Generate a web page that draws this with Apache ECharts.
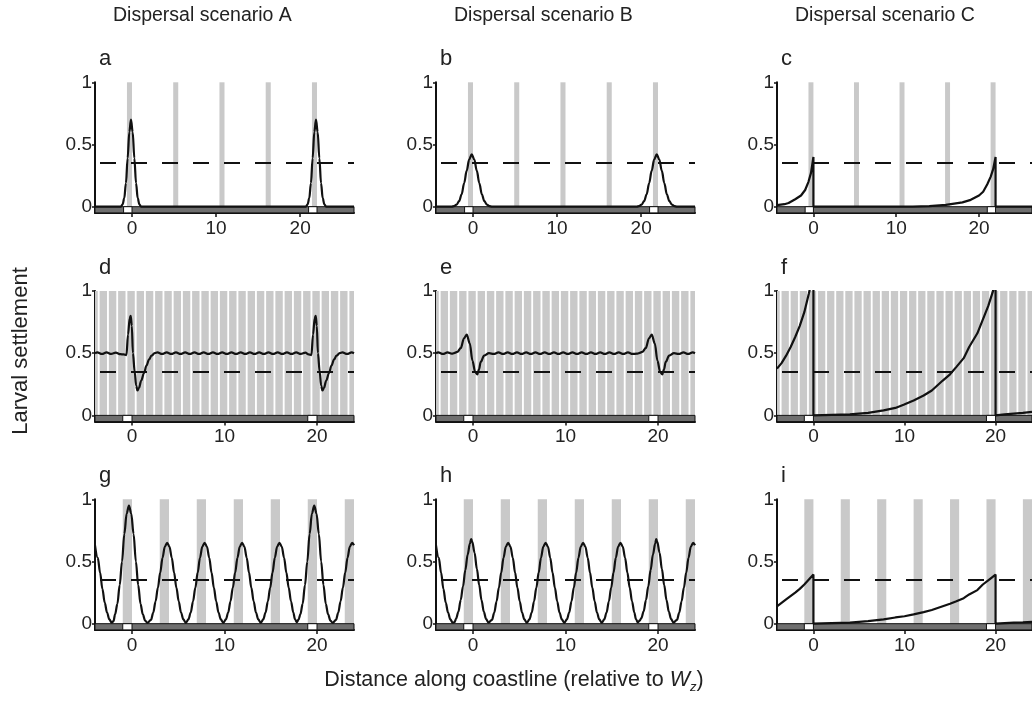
<!DOCTYPE html>
<html><head><meta charset="utf-8">
<script src="https://cdn.jsdelivr.net/npm/echarts@6/dist/echarts.min.js"></script>
<style>html,body{margin:0;padding:0;background:#fff}#c{width:1032px;height:702px}</style>
</head><body><div id="c"></div>
<script>
// ---------------- DATA ----------------
const scenarioTitles = ['Dispersal scenario A', 'Dispersal scenario B', 'Dispersal scenario C'];
const panelLetters = ['a', 'b', 'c', 'd', 'e', 'f', 'g', 'h', 'i'];
const yAxisTitle = 'Larval settlement';
const xAxisTitleParts = ['Distance along coastline (relative to ', 'W', 'z', ')'];
const xTicks = [0, 10, 20];
const yTicks = [0, 0.5, 1];
const threshold = 0.35;
const xRangeRow1 = [-4.4, 26.4];
const xRangeRow2 = [-4, 24];
const xRangeRow3 = [-4, 24];
const yRange = [-0.05, 1];

const reservesRow1 = [[-0.6, 0], [4.9, 5.5], [10.4, 11], [15.9, 16.5], [21.4, 22]];
const reservesRow2 = [[-4, -3.7], [-3.5, -2.7], [-2.5, -1.7], [-1.5, -0.7], [-0.5, 0.3], [0.5, 1.3],
  [1.5, 2.3], [2.5, 3.3], [3.5, 4.3], [4.5, 5.3], [5.5, 6.3], [6.5, 7.3], [7.5, 8.3], [8.5, 9.3],
  [9.5, 10.3], [10.5, 11.3], [11.5, 12.3], [12.5, 13.3], [13.5, 14.3], [14.5, 15.3], [15.5, 16.3],
  [16.5, 17.3], [17.5, 18.3], [18.5, 19.3], [19.5, 20.3], [20.5, 21.3], [21.5, 22.3], [22.5, 23.3], [23.5, 24]];
const reservesRow3 = [[-1, 0], [3, 4], [7, 8], [11, 12], [15, 16], [19, 20], [23, 24]];
const focalRow1 = [[-1, 0], [21, 22]];
const focalRow2 = [[-1, 0], [19, 20]];
const focalRow3 = [[-1, 0], [19, 20]];

const curveA = [[-4.4,0],[-1.32,0],[-1.12,0.018],[-0.92,0.068],[-0.72,0.19],[-0.52,0.39],[-0.32,0.6],[-0.12,0.7],
  [0.08,0.6],[0.28,0.39],[0.48,0.19],[0.68,0.068],[0.88,0.018],[1.08,0],[20.68,0],[20.88,0.018],[21.08,0.068],
  [21.28,0.19],[21.48,0.39],[21.68,0.6],[21.88,0.7],[22.08,0.6],[22.28,0.39],[22.48,0.19],[22.68,0.068],
  [22.88,0.018],[23.08,0],[26.4,0]];
const curveB = [[-4.4,0],[-2.55,0],[-2.25,0.005],[-1.95,0.016],[-1.65,0.045],[-1.35,0.1],[-1.05,0.19],[-0.75,0.29],
  [-0.45,0.38],[-0.15,0.42],[0.15,0.38],[0.45,0.29],[0.75,0.19],[1.05,0.1],[1.35,0.045],[1.65,0.016],[1.95,0.005],
  [2.25,0],[19.45,0],[19.75,0.005],[20.05,0.016],[20.35,0.045],[20.65,0.1],[20.95,0.19],[21.25,0.29],[21.55,0.38],
  [21.85,0.42],[22.15,0.38],[22.45,0.29],[22.75,0.19],[23.05,0.1],[23.35,0.045],[23.65,0.016],[23.95,0.005],
  [24.25,0],[26.4,0]];
const curveC = [[-4.4,0.012],[-3.5,0.02],[-3,0.03],[-2.2,0.06],[-1.5,0.09],[-1,0.134],[-0.6,0.2],[-0.3,0.27],[0,0.4],
  [0,0],[12,0],[14,0.005],[16,0.015],[18,0.035],[19,0.055],[20,0.09],[20.5,0.12],[21,0.18],[21.4,0.24],[21.7,0.3],
  [22,0.4],[22,0],[26.4,0]];
const curveD = [[-4,0.5],[-3.75,0.506],[-3.25,0.494],[-2.75,0.506],[-2.25,0.494],[-1.75,0.504],[-1.25,0.492],
  [-0.9,0.49],[-0.6,0.485],[-0.43,0.65],[-0.25,0.78],[-0.14,0.8],[-0.02,0.72],[0.1,0.5],[0.29,0.35],[0.45,0.24],
  [0.58,0.2],[0.75,0.22],[1,0.28],[1.3,0.34],[1.56,0.4],[1.85,0.45],[2.1,0.48],[2.45,0.5],[2.75,0.506],[3.25,0.494],
  [3.75,0.506],[4.25,0.494],[4.75,0.506],[5.25,0.494],[5.75,0.506],[6.25,0.494],[6.75,0.506],[7.25,0.494],
  [7.75,0.506],[8.25,0.494],[8.75,0.506],[9.25,0.494],[9.75,0.506],[10.25,0.494],[10.75,0.506],[11.25,0.494],
  [11.75,0.506],[12.25,0.494],[12.75,0.506],[13.25,0.494],[13.75,0.506],[14.25,0.494],[14.75,0.506],[15.25,0.494],
  [15.75,0.506],[16.25,0.494],[16.75,0.506],[17.25,0.494],[17.75,0.506],[18.25,0.494],[18.75,0.504],[19.1,0.49],
  [19.4,0.485],[19.57,0.65],[19.75,0.78],[19.86,0.8],[19.98,0.72],[20.1,0.5],[20.29,0.35],[20.45,0.24],[20.58,0.2],
  [20.75,0.22],[21,0.28],[21.3,0.34],[21.56,0.4],[21.85,0.45],[22.1,0.48],[22.45,0.5],[22.75,0.506],[23.25,0.494],
  [23.75,0.506],[24,0.5]];
const curveE = [[-4,0.5],[-3.75,0.506],[-3.25,0.494],[-2.75,0.506],[-2.3,0.496],[-2.05,0.5],[-1.7,0.51],[-1.33,0.54],
  [-0.97,0.62],[-0.68,0.65],[-0.35,0.58],[-0.06,0.44],[0.23,0.35],[0.47,0.33],[0.65,0.37],[0.83,0.43],[1.2,0.48],
  [1.73,0.5],[2.25,0.494],[2.75,0.506],[3.25,0.494],[3.75,0.506],[4.25,0.494],[4.75,0.506],[5.25,0.494],[5.75,0.506],
  [6.25,0.494],[6.75,0.506],[7.25,0.494],[7.75,0.506],[8.25,0.494],[8.75,0.506],[9.25,0.494],[9.75,0.506],
  [10.25,0.494],[10.75,0.506],[11.25,0.494],[11.75,0.506],[12.25,0.494],[12.75,0.506],[13.25,0.494],[13.75,0.506],
  [14.25,0.494],[14.75,0.506],[15.25,0.494],[15.75,0.506],[16.25,0.494],[16.75,0.506],[17.25,0.494],[17.7,0.496],
  [17.95,0.5],[18.3,0.51],[18.67,0.54],[19.03,0.62],[19.32,0.65],[19.65,0.58],[19.94,0.44],[20.23,0.35],[20.47,0.33],
  [20.65,0.37],[20.83,0.43],[21.2,0.48],[21.73,0.5],[22.25,0.494],[22.75,0.506],[23.25,0.494],[23.75,0.506],[24,0.5]];
const curveF = [[-4,0.376],[-3.5,0.42],[-3,0.48],[-2.5,0.55],[-2,0.63],[-1.5,0.72],[-1,0.83],[-0.5,0.98],[-0.2,1.08],
  [0,1.15],[0,0],[2,0.004],[4,0.008],[6,0.02],[7.7,0.04],[9,0.06],[9.9,0.086],[11,0.12],[12.1,0.16],[13,0.2],
  [14.2,0.28],[15,0.33],[15.7,0.39],[16.5,0.46],[17.1,0.55],[18,0.66],[18.6,0.77],[19.2,0.88],[19.7,0.995],
  [20,1.08],[20,0],[21,0.008],[22,0.014],[23,0.02],[24,0.028]];
const curveG = [[-4,0.63],[-3.7,0.53],[-3.45,0.41],[-3.2,0.28],[-2.95,0.17],[-2.7,0.09],[-2.45,0.035],[-2.2,0.008],
  [-2,0.02],[-1.83,0.075],[-1.58,0.16],[-1.33,0.31],[-1.08,0.5],[-0.83,0.72],[-0.58,0.885],[-0.33,0.95],
  [-0.08,0.885],[0.17,0.72],[0.42,0.5],[0.67,0.31],[0.92,0.16],[1.17,0.075],[1.42,0.025],[1.67,0.006],
  [2.05,0.03],[2.3,0.09],[2.55,0.18],[2.8,0.29],[3.05,0.41],[3.3,0.53],[3.55,0.62],[3.8,0.65],[4.05,0.62],
  [4.3,0.53],[4.55,0.41],[4.8,0.29],[5.05,0.18],[5.3,0.09],[5.55,0.035],[5.82,0.006],
  [6.1,0.035],[6.35,0.09],[6.6,0.18],[6.85,0.29],[7.1,0.41],[7.35,0.53],[7.6,0.62],[7.85,0.65],[8.1,0.62],
  [8.35,0.53],[8.6,0.41],[8.85,0.29],[9.1,0.18],[9.35,0.09],[9.6,0.035],[9.87,0.006],
  [10.15,0.035],[10.4,0.09],[10.65,0.18],[10.9,0.29],[11.15,0.41],[11.4,0.53],[11.65,0.62],[11.9,0.65],
  [12.15,0.62],[12.4,0.53],[12.65,0.41],[12.9,0.29],[13.15,0.18],[13.4,0.09],[13.65,0.035],[13.92,0.006],
  [14.19,0.035],[14.44,0.09],[14.69,0.18],[14.94,0.29],[15.19,0.41],[15.44,0.53],[15.69,0.62],[15.94,0.65],
  [16.19,0.62],[16.44,0.53],[16.69,0.41],[16.94,0.29],[17.19,0.18],[17.44,0.09],[17.62,0.035],[17.82,0.012],
  [18.02,0.035],[18.2,0.075],[18.45,0.16],[18.7,0.31],[18.95,0.5],[19.2,0.72],[19.45,0.885],[19.7,0.95],
  [19.95,0.885],[20.2,0.72],[20.45,0.5],[20.7,0.31],[20.95,0.16],[21.2,0.075],[21.45,0.025],[21.7,0.006],
  [22.05,0.03],[22.3,0.09],[22.55,0.18],[22.8,0.29],[23.05,0.41],[23.3,0.53],[23.55,0.62],[23.8,0.65],[24,0.63]];
const curveH = [[-4,0.63],[-3.7,0.53],[-3.45,0.41],[-3.2,0.28],[-2.95,0.17],[-2.7,0.09],[-2.45,0.035],[-2.2,0.008],
  [-2,0.012],[-1.83,0.04],[-1.58,0.095],[-1.33,0.19],[-1.08,0.3],[-0.83,0.43],[-0.58,0.555],[-0.33,0.645],[-0.2,0.68],
  [-0.08,0.66],[0.17,0.57],[0.42,0.44],[0.67,0.31],[0.92,0.19],[1.17,0.095],[1.42,0.037],[1.67,0.008],
  [2.05,0.03],[2.3,0.09],[2.55,0.18],[2.8,0.29],[3.05,0.41],[3.3,0.53],[3.55,0.62],[3.8,0.65],[4.05,0.62],
  [4.3,0.53],[4.55,0.41],[4.8,0.29],[5.05,0.18],[5.3,0.09],[5.55,0.035],[5.82,0.006],
  [6.1,0.035],[6.35,0.09],[6.6,0.18],[6.85,0.29],[7.1,0.41],[7.35,0.53],[7.6,0.62],[7.85,0.65],[8.1,0.62],
  [8.35,0.53],[8.6,0.41],[8.85,0.29],[9.1,0.18],[9.35,0.09],[9.6,0.035],[9.87,0.006],
  [10.15,0.035],[10.4,0.09],[10.65,0.18],[10.9,0.29],[11.15,0.41],[11.4,0.53],[11.65,0.62],[11.9,0.65],
  [12.15,0.62],[12.4,0.53],[12.65,0.41],[12.9,0.29],[13.15,0.18],[13.4,0.09],[13.65,0.035],[13.92,0.006],
  [14.19,0.035],[14.44,0.09],[14.69,0.18],[14.94,0.29],[15.19,0.41],[15.44,0.53],[15.69,0.62],[15.94,0.65],
  [16.19,0.62],[16.44,0.53],[16.69,0.41],[16.94,0.29],[17.19,0.18],[17.44,0.09],[17.62,0.035],[17.82,0.01],
  [18.02,0.025],[18.2,0.045],[18.45,0.1],[18.7,0.19],[18.95,0.3],[19.2,0.43],[19.45,0.555],[19.7,0.645],[19.8,0.68],
  [19.92,0.66],[20.17,0.57],[20.42,0.44],[20.67,0.31],[20.92,0.19],[21.17,0.095],[21.42,0.037],[21.67,0.008],
  [22.05,0.03],[22.3,0.09],[22.55,0.18],[22.8,0.29],[23.05,0.41],[23.3,0.53],[23.55,0.62],[23.8,0.65],[24,0.63]];
const curveI = [[-4,0.14],[-3,0.195],[-2,0.25],[-1.5,0.28],[-1,0.315],[-0.5,0.355],[0,0.395],[0,0],[2,0.004],
  [4,0.008],[6,0.02],[7.7,0.035],[9,0.05],[10,0.06],[11,0.075],[12.1,0.093],[13,0.11],[14.2,0.14],[15,0.16],
  [15.7,0.18],[16.5,0.205],[17.1,0.235],[18,0.27],[18.6,0.315],[19.3,0.355],[20,0.395],[20,0],[21,0.004],
  [22,0.008],[23,0.011],[24,0.015]];

// ---------------- LAYOUT ----------------
const FONT = "'Liberation Sans', Arial, Helvetica, sans-serif";
const TXT = '#222';
const colLeft = [95, 436, 777];
const rowTop = [82.3, 291, 499.3];
const GW = 259, GH = 130.6;

const rows = [
  { range: xRangeRow1, reserves: reservesRow1, focal: focalRow1 },
  { range: xRangeRow2, reserves: reservesRow2, focal: focalRow2 },
  { range: xRangeRow3, reserves: reservesRow3, focal: focalRow3 }
];
const curves = [curveA, curveB, curveC, curveD, curveE, curveF, curveG, curveH, curveI];
const sharpDrop = [false, false, true, false, false, true, false, false, true];

const grid = [], xAxis = [], yAxis = [], series = [], graphic = [];
for (let r = 0; r < 3; r++) {
  for (let c = 0; c < 3; c++) {
    const i = r * 3 + c;
    const row = rows[r];
    grid.push({ left: colLeft[c], top: rowTop[r], width: GW, height: GH, containLabel: false });
    xAxis.push({
      type: 'value', gridIndex: i, min: row.range[0], max: row.range[1],
      axisLine: { show: true, onZero: false, lineStyle: { color: '#111', width: 2 } },
      axisTick: { show: true, customValues: xTicks, length: 4, lineStyle: { color: '#111', width: 1.5 } },
      axisLabel: { show: true, customValues: xTicks, fontSize: 19, color: TXT, fontFamily: FONT, margin: 6 },
      splitLine: { show: false }
    });
    yAxis.push({
      type: 'value', gridIndex: i, min: yRange[0], max: yRange[1],
      axisLine: { show: true, onZero: false, lineStyle: { color: '#111', width: 2 } },
      axisTick: { show: true, customValues: yTicks, length: 3, lineStyle: { color: '#111', width: 1.5 } },
      axisLabel: { show: true, customValues: yTicks, fontSize: 19, color: TXT, fontFamily: FONT, margin: 3 },
      splitLine: { show: false }
    });
    series.push({
      type: 'line', xAxisIndex: i, yAxisIndex: i, data: [], z: 1, silent: true,
      markArea: {
        silent: true, label: { show: false },
        itemStyle: { color: '#c9c9c9' },
        data: row.reserves.map(s => [{ xAxis: s[0], yAxis: 0 }, { xAxis: s[1], yAxis: 1 }])
      }
    });
    series.push({
      type: 'line', xAxisIndex: i, yAxisIndex: i, data: [], z: 2, silent: true,
      markArea: {
        silent: true, label: { show: false },
        itemStyle: { color: '#6f6f6f', borderColor: '#111', borderWidth: 1 },
        data: [[{ xAxis: row.range[0], yAxis: yRange[0] }, { xAxis: row.range[1], yAxis: 0 }]]
      }
    });
    series.push({
      type: 'line', xAxisIndex: i, yAxisIndex: i, data: [], z: 3, silent: true,
      markArea: {
        silent: true, label: { show: false },
        itemStyle: { color: '#ffffff', borderColor: '#111', borderWidth: 1 },
        data: row.focal.map(s => [{ xAxis: s[0], yAxis: yRange[0] }, { xAxis: s[1], yAxis: 0 }])
      }
    });
    series.push({
      type: 'line', xAxisIndex: i, yAxisIndex: i, data: [], z: 4, silent: true,
      markLine: {
        silent: true, symbol: ['none', 'none'], label: { show: false },
        lineStyle: { color: '#111', width: 2, type: [16, 15], dashOffset: -5 },
        data: [{ yAxis: threshold }]
      }
    });
    series.push({
      type: 'line', xAxisIndex: i, yAxisIndex: i, data: curves[i], z: 5, silent: true,
      showSymbol: false, symbol: 'none', clip: true,
      smooth: sharpDrop[i] ? false : 0.35, smoothMonotone: 'x',
      lineStyle: { color: '#111', width: 2.2 }
    });
    graphic.push({
      type: 'text', left: colLeft[c] + 4, top: rowTop[r] - 34,
      style: { text: panelLetters[i], fontSize: 22, fill: TXT, fontFamily: FONT }
    });
  }
}
for (let c = 0; c < 3; c++) {
  graphic.push({
    type: 'text', x: colLeft[c] + 18, y: 16,
    style: { text: scenarioTitles[c], fontSize: 19.5, fill: TXT, fontFamily: FONT, align: 'left', verticalAlign: 'middle' }
  });
}
graphic.push({
  type: 'text', x: 21, y: 351, rotation: Math.PI / 2,
  style: { text: yAxisTitle, fontSize: 22, fill: TXT, fontFamily: FONT, align: 'center', verticalAlign: 'middle' }
});
graphic.push({
  type: 'text', x: 514, y: 680,
  style: {
    text: xAxisTitleParts[0] + '{w|' + xAxisTitleParts[1] + '}{z|' + xAxisTitleParts[2] + '}' + xAxisTitleParts[3],
    fontSize: 21.5, fill: TXT, fontFamily: FONT, align: 'center', verticalAlign: 'middle', lineHeight: 28,
    rich: {
      w: { fontSize: 21.5, fontStyle: 'italic', fill: TXT, fontFamily: FONT, lineHeight: 28 },
      z: { fontSize: 13, fontStyle: 'italic', fill: TXT, fontFamily: FONT, verticalAlign: 'bottom', lineHeight: 13 }
    }
  }
});

const chart = echarts.init(document.getElementById('c'), null, { renderer: 'canvas' });
chart.setOption({ animation: false, backgroundColor: '#fff', grid, xAxis, yAxis, series, graphic });
</script>
</body></html>
